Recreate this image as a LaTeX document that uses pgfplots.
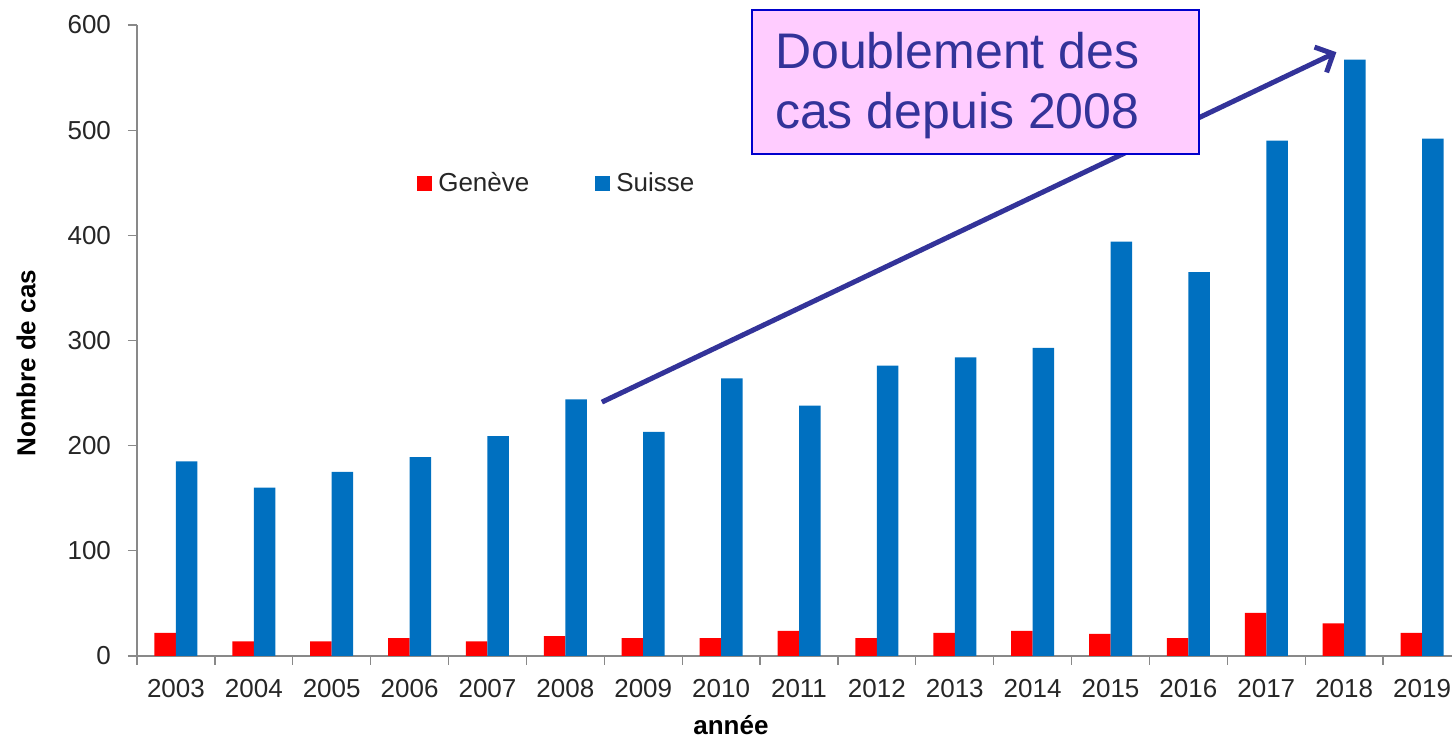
\documentclass[border=0pt]{standalone}
\usepackage{fontspec}
\setmainfont{Liberation Sans}
\usepackage{pgfplots}
\usepackage{pgfplotstable}
\pgfplotsset{compat=1.18}
\usetikzlibrary{arrows.meta}
\definecolor{gred}{HTML}{FF0000}
\definecolor{sblue}{HTML}{0070C0}
\definecolor{axgray}{HTML}{898989}
\definecolor{arrowc}{HTML}{333399}
\definecolor{boxfill}{HTML}{FFCCFF}
\definecolor{boxdraw}{HTML}{0000CC}
\definecolor{txt}{HTML}{262626}
\pgfplotstableread{
x geneve suisse
0 22 185
1 14 160
2 14 175
3 17 189
4 14 209
5 19 244
6 17 213
7 17 264
8 24 238
9 17 276
10 22 284
11 24 293
12 21 394
13 17 365
14 41 490
15 31 567
16 22 492
}\data
\begin{document}
\begin{tikzpicture}
\begin{axis}[
  scale only axis, width=662pt, height=315.5pt,
  xmin=-0.5, xmax=16.5, ymin=0, ymax=600,
  ybar=0pt, bar width=10.75pt,
  axis x line*=bottom, axis y line*=left,
  axis line style={axgray, line width=0.65pt},
  tick style={axgray, line width=0.65pt},
  tick align=outside, major tick length=4.5pt,
  /pgf/number format/assume math mode=true,
  ytick={0,100,...,600},
  yticklabel style={xshift=-5pt},
  xtick={-0.5,0.5,...,16.5}, xticklabels={},
  extra x ticks={0,1,...,16},
  extra x tick labels={2003,2004,2005,2006,2007,2008,2009,2010,2011,2012,2013,2014,2015,2016,2017,2018,2019},
  extra x tick style={major tick length=0pt, tick style={draw=none}, xticklabel style={yshift=-8pt}},
  tick label style={font=\fontsize{13}{15}\selectfont, text=txt},
  every axis y label/.style={at={(axis description cs:-0.0838,0.464)}, rotate=90, anchor=center},
  every axis x label/.style={at={(axis description cs:0.4486,-0.1094)}, anchor=center},
  ylabel={\bfseries Nombre de cas},
  xlabel={\bfseries année},
  label style={font=\fontsize{13}{15}\selectfont, text=black},
  legend columns=2,
  legend style={at={(axis cs:3.094,449.6)}, anchor=west, draw=none, fill=none,
    font=\fontsize{13}{15}\selectfont, text=txt, inner sep=0pt,
    nodes={inner xsep=3pt, inner ysep=0pt},
    /tikz/every even column/.append style={column sep=30pt}},
  legend image code/.code={\fill[#1] (0pt,-3.75pt) rectangle (7.5pt,3.75pt);},
  clip=false,
]
\addplot[fill=gred, draw=none] table[x=x, y=geneve] {\data};
\addlegendentry{Genève}
\addplot[fill=sblue, draw=none] table[x=x, y=suisse] {\data};
\addlegendentry{Suisse}
\draw[arrowc, line width=2.5pt, -{Straight Barb[length=7pt,width=14pt,line width=2.5pt]}] (axis cs:5.469,241.4) -- (axis cs:14.90,574.1);
\filldraw[fill=boxfill, draw=boxdraw, line width=1pt] (axis cs:7.394,477.2) rectangle (axis cs:13.13,614.1);
\node[anchor=base west, text=arrowc, font=\fontsize{25}{30}\selectfont, inner sep=0pt] at (axis cs:7.689,558.9) {Doublement des};
\node[anchor=base west, text=arrowc, font=\fontsize{25}{30}\selectfont, inner sep=0pt] at (axis cs:7.689,501.9) {cas depuis 2008};
\end{axis}
\pgfresetboundingbox
\path[use as bounding box] ([shift={(-68.5pt,-40.5pt)}]current axis.south west) rectangle ([shift={(657.5pt,328pt)}]current axis.south west);
\end{tikzpicture}
\end{document}
